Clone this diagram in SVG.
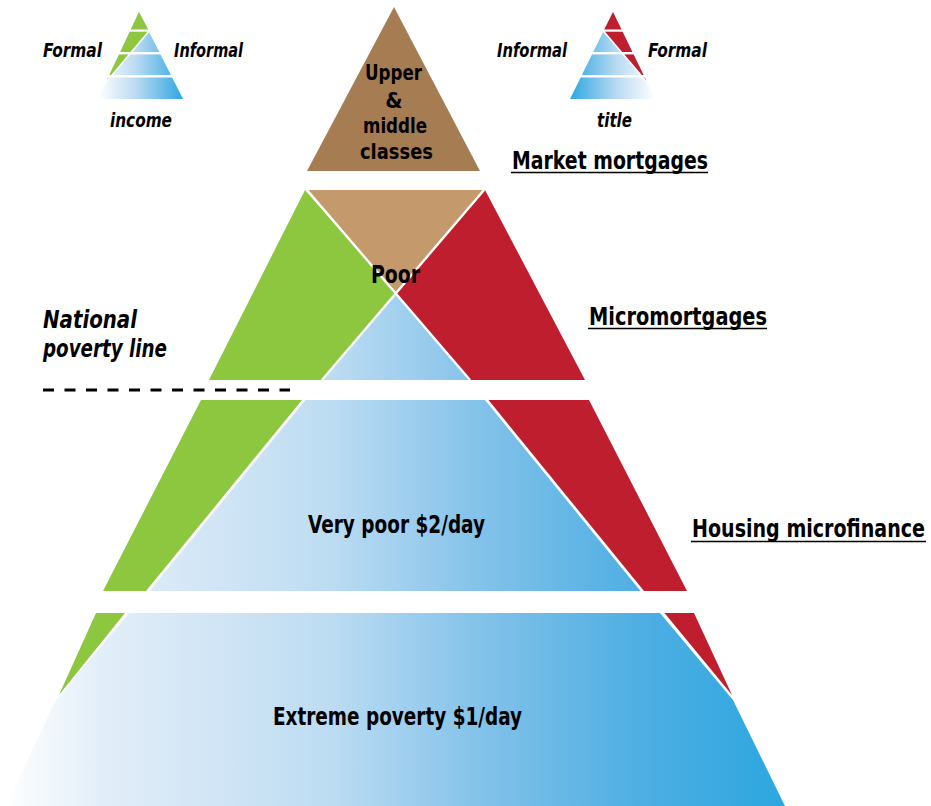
<svg xmlns="http://www.w3.org/2000/svg" width="931" height="806" viewBox="0 0 931 806">
  <style>
    .lbl { font-family: 'Liberation Sans Narrow', 'DejaVu Sans Condensed', 'Liberation Sans', Arial, sans-serif; font-weight: bold; fill: #000; }
    .it { font-style: italic; }
    .green { fill: #8dc63f; }
    .red { fill: #be1e2d; }
    .ul { stroke: #000; stroke-width: 1.6; }
  </style>
  <defs>
    <linearGradient id="gMain" gradientUnits="userSpaceOnUse" x1="0" y1="0" x2="790" y2="0">
      <stop offset="0" stop-color="#ffffff"/>
      <stop offset="0.13" stop-color="#e2eef9"/>
      <stop offset="0.32" stop-color="#cbe2f4"/>
      <stop offset="0.42" stop-color="#bcdcf2"/>
      <stop offset="0.59" stop-color="#88c4ea"/>
      <stop offset="0.70" stop-color="#6ab9e6"/>
      <stop offset="0.81" stop-color="#4eafe3"/>
      <stop offset="1" stop-color="#2ba6df"/>
    </linearGradient>
    <linearGradient id="gSmallL" gradientUnits="userSpaceOnUse" x1="98" y1="0" x2="183" y2="0">
      <stop offset="0" stop-color="#ffffff"/>
      <stop offset="0.45" stop-color="#b9daf2"/>
      <stop offset="1" stop-color="#2ea7e0"/>
    </linearGradient>
    <linearGradient id="gSmallR" gradientUnits="userSpaceOnUse" x1="570" y1="0" x2="655" y2="0">
      <stop offset="0" stop-color="#2ea7e0"/>
      <stop offset="0.55" stop-color="#b9daf2"/>
      <stop offset="1" stop-color="#ffffff"/>
    </linearGradient>
  </defs>

  <!-- Small income pyramid -->
  <g id="income-pyramid">
    <polygon points="139,12 98,99 183,99" fill="url(#gSmallL)"/>
    <polygon class="green" points="139,12 149,31 105.5,83"/>
    <line x1="150" y1="30" x2="104.5" y2="84" stroke="#fff" stroke-width="1.6"/>
    <rect x="90" y="29.5" width="100" height="2.2" fill="#fff"/>
    <rect x="90" y="52" width="100" height="2.4" fill="#fff"/>
    <rect x="90" y="75" width="100" height="2.5" fill="#fff"/>
    <text class="lbl it" x="43" y="57" font-size="20" textLength="59" lengthAdjust="spacingAndGlyphs">Formal</text>
    <text class="lbl it" x="174" y="57" font-size="20" textLength="69" lengthAdjust="spacingAndGlyphs">Informal</text>
    <text class="lbl it" x="110" y="127" font-size="20" textLength="62" lengthAdjust="spacingAndGlyphs">income</text>
  </g>

  <!-- Small title pyramid -->
  <g id="title-pyramid">
    <polygon points="613,12 570,99 655,99" fill="url(#gSmallR)"/>
    <polygon class="red" points="613,12 603.5,31 647.5,83"/>
    <line x1="602.5" y1="30" x2="648.5" y2="84" stroke="#fff" stroke-width="1.6"/>
    <rect x="560" y="29.5" width="100" height="2.2" fill="#fff"/>
    <rect x="560" y="52" width="100" height="2.4" fill="#fff"/>
    <rect x="560" y="75" width="100" height="2.5" fill="#fff"/>
    <text class="lbl it" x="497" y="57" font-size="20" textLength="70" lengthAdjust="spacingAndGlyphs">Informal</text>
    <text class="lbl it" x="648" y="57" font-size="20" textLength="59" lengthAdjust="spacingAndGlyphs">Formal</text>
    <text class="lbl it" x="597" y="127" font-size="20" textLength="35" lengthAdjust="spacingAndGlyphs">title</text>
  </g>

  <!-- Tier 1: Upper & middle classes -->
  <g id="tier-upper">
    <polygon points="394,7 307,171 480,171" fill="#a67c52"/>
    <text class="lbl" x="365" y="80" font-size="22" textLength="57" lengthAdjust="spacingAndGlyphs">Upper</text>
    <text class="lbl" x="394" y="108" font-size="22" text-anchor="middle">&amp;</text>
    <text class="lbl" x="363" y="133" font-size="22" textLength="64" lengthAdjust="spacingAndGlyphs">middle</text>
    <text class="lbl" x="360" y="159" font-size="22" textLength="73" lengthAdjust="spacingAndGlyphs">classes</text>
  </g>

  <!-- Tier 2: Poor -->
  <g id="tier-poor">
    <polygon class="green" points="305,190 396,293 322,380 209,380"/>
    <polygon points="307,190 484,190 396,293" fill="#c49a6c"/>
    <polygon class="red" points="485,190 585,380 470,380 396,293"/>
    <polygon points="396,293 470,380 322,380" fill="url(#gMain)"/>
    <line x1="307" y1="190" x2="470" y2="380" stroke="#fff" stroke-width="2.4"/>
    <line x1="484" y1="190" x2="322" y2="380" stroke="#fff" stroke-width="2.4"/>
    <text class="lbl" x="371" y="283" font-size="25" textLength="49" lengthAdjust="spacingAndGlyphs">Poor</text>
  </g>

  <!-- Tier 3: Very poor -->
  <g id="tier-very-poor">
    <polygon class="green" points="201,400 302,400 146,591 103,591"/>
    <polygon points="305.5,400 485,400 640.5,591 149.5,591" fill="url(#gMain)"/>
    <polygon class="red" points="488.5,400 589,400 687,591 644,591"/>
    <text class="lbl" x="308" y="533" font-size="25" textLength="177" lengthAdjust="spacingAndGlyphs">Very poor $2/day</text>
  </g>

  <!-- Tier 4: Extreme poverty -->
  <g id="tier-extreme">
    <polygon class="green" points="96,613 125,613 59,695"/>
    <polygon points="129,613 660,613 733,700 785,806 6,806 55,702" fill="url(#gMain)"/>
    <polygon class="red" points="664.5,613 694,613 732,695"/>
    <text class="lbl" x="273" y="725" font-size="25" textLength="249" lengthAdjust="spacingAndGlyphs">Extreme poverty $1/day</text>
  </g>

  <!-- Side labels -->
  <g id="label-market">
    <text class="lbl" x="512" y="169" font-size="24" textLength="196" lengthAdjust="spacingAndGlyphs">Market mortgages</text>
    <line class="ul" x1="511" y1="172.5" x2="708" y2="172.5"/>
  </g>
  <g id="label-micromortgages">
    <text class="lbl" x="589" y="325" font-size="24" textLength="178" lengthAdjust="spacingAndGlyphs">Micromortgages</text>
    <line class="ul" x1="588" y1="328.5" x2="767" y2="328.5"/>
  </g>
  <g id="label-housing">
    <text class="lbl" x="692" y="537" font-size="24" textLength="233" lengthAdjust="spacingAndGlyphs">Housing microfinance</text>
    <line class="ul" x1="691" y1="541.5" x2="926" y2="541.5"/>
  </g>
  <g id="label-poverty-line">
    <text class="lbl it" x="43" y="328" font-size="25" textLength="94" lengthAdjust="spacingAndGlyphs">National</text>
    <text class="lbl it" x="43" y="357" font-size="25" textLength="124" lengthAdjust="spacingAndGlyphs">poverty line</text>
  </g>

  <g id="connectors">
    <line x1="43" y1="390" x2="290" y2="390" stroke="#000" stroke-width="2.8" stroke-dasharray="11 10.5"/>
  </g>
</svg>
